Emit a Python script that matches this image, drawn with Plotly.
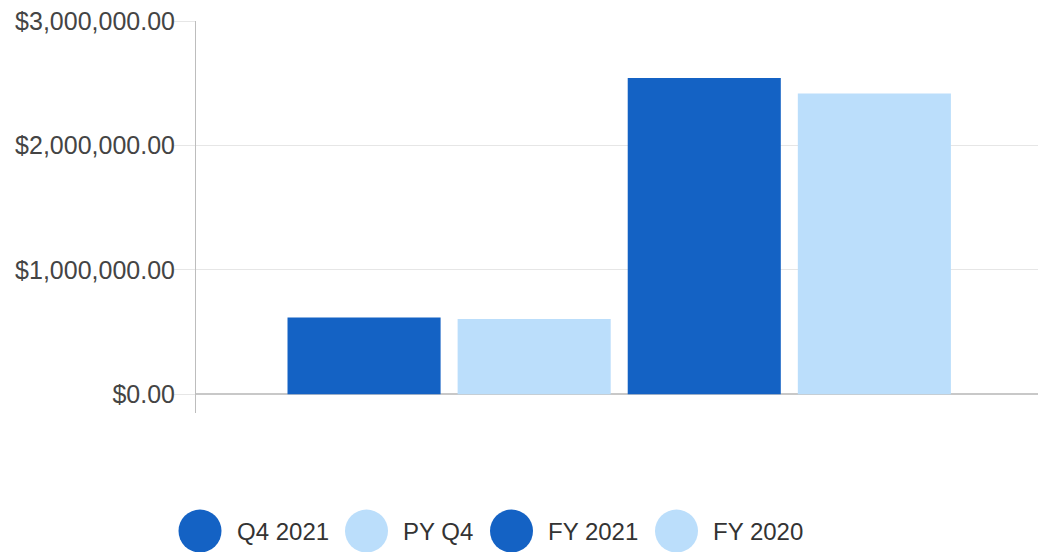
import plotly.graph_objects as go

categories = ["Q4 2021", "PY Q4", "FY 2021", "FY 2020"]
values = [617000, 604000, 2541000, 2417000]
colors = ["#1462C4", "#BBDEFB", "#1462C4", "#BBDEFB"]
y_ticks = [0, 1000000, 2000000, 3000000]

W, H = 1038, 552
L, R, T, B = 196, 0, 21, 139
pw, ph = W - L - R, H - T - B

fig = go.Figure()
fig.add_trace(go.Bar(
    x=list(range(len(categories))), y=values, width=0.9,
    marker=dict(color=colors, line=dict(width=0)),
    hovertext=categories, showlegend=False,
))

# manual legend (big circles like the original)
leg_cx = [200, 366.5, 511.5, 676.5]
leg_cy = 531
rad = 21.5
def px(x):
    return (x - L) / pw
def py(y):
    return (H - B - y) / ph
shapes = []
annotations = []
for cat, col, cx in zip(categories, colors, leg_cx):
    shapes.append(dict(type="circle", xref="paper", yref="paper",
                       x0=px(cx - rad), x1=px(cx + rad), y0=py(leg_cy + rad), y1=py(leg_cy - rad),
                       fillcolor=col, line=dict(width=0)))
    annotations.append(dict(text=cat, xref="paper", yref="paper", x=px(cx + rad + 13), y=py(leg_cy),
                            xanchor="left", yanchor="middle", showarrow=False,
                            font=dict(size=24, color="#333333", family="Liberation Sans, Arial")))

fig.update_layout(
    width=W, height=H,
    margin=dict(l=L, r=R, t=T, b=B, pad=0),
    paper_bgcolor="white", plot_bgcolor="white",
    font=dict(family="Liberation Sans, Arial", color="#444444"),
    shapes=shapes, annotations=annotations,
    showlegend=False,
    xaxis=dict(range=[-0.988, 3.962], showticklabels=False, showgrid=False,
               zeroline=False, showline=False, ticks=""),
    yaxis=dict(range=[-150700, 3000000], tickmode="array", tickvals=y_ticks,
               ticktext=["${:,.2f}".format(v) for v in y_ticks],
               tickfont=dict(size=25, color="#444444"),
               ticklabelstandoff=-6,
               showgrid=True, gridcolor="#e6e6e6", gridwidth=1,
               zeroline=True, zerolinecolor="#c8c8c8", zerolinewidth=2,
               showline=True, linecolor="#bdbdbd", linewidth=1,
               ticks="outside", ticklen=21, tickcolor="#e6e6e6"),
)

fig.write_html("out.html", config={"displayModeBar": False},
               post_script="document.body.style.margin='0';")
